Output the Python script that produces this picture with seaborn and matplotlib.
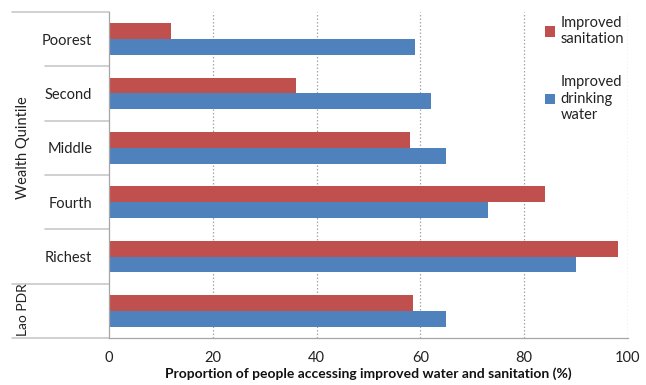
import matplotlib
matplotlib.use("Agg")
import matplotlib.pyplot as plt
from matplotlib.patches import Patch
import matplotlib.transforms as mtransforms
import seaborn as sns
import pandas as pd

# Access to improved services by wealth quintile (%)
groups = ["Poorest", "Second", "Middle", "Fourth", "Richest", "Lao PDR"]
tick_labels = ["Poorest", "Second", "Middle", "Fourth", "Richest", ""]
sanitation = [12, 36, 58, 84, 98, 58.5]
drinking_water = [59, 62, 65, 73, 90, 65]
series = ["Improved sanitation", "Improved drinking water"]
legend_labels = ["Improved\nsanitation", "Improved\ndrinking\nwater"]
colors = ["#C0504D", "#4F81BD"]

df = pd.DataFrame({
    "group": groups * 2,
    "value": sanitation + drinking_water,
    "series": [series[0]] * len(groups) + [series[1]] * len(groups),
})

sns.set_theme(style="white")
plt.rcParams["font.family"] = ["Lato", "DejaVu Sans"]

fig = plt.figure(figsize=(6.46, 3.85), dpi=100)
ax = fig.add_axes([0.1687, 0.122, 0.8034, 0.847])

sns.barplot(data=df, y="group", x="value", hue="series", order=groups,
            hue_order=series, palette=colors, orient="h", width=0.58,
            saturation=1, ax=ax, legend=False, edgecolor="none")

ax.set_xlim(0, 100)
ax.set_ylim(5.5, -0.5)
ax.set_xticks([0, 20, 40, 60, 80, 100])
ax.set_yticks(range(len(groups)))
ax.set_yticklabels(tick_labels, fontsize=10.5, color="#222222")
ax.tick_params(axis="y", length=0, pad=12)
ax.tick_params(axis="x", length=5, width=0.8, color="#A6A6A6",
               direction="out", labelsize=10.5, labelcolor="#222222", pad=4)

for v in [20, 40, 60, 80, 100]:
    ax.axvline(v, color="#A6A6A6", lw=0.9, ls=(0, (1.2, 1.6)), zorder=0)

for side in ["top", "right"]:
    ax.spines[side].set_visible(False)
for side in ["left", "bottom"]:
    ax.spines[side].set_color("#A6A6A6")
    ax.spines[side].set_linewidth(0.9)

ax.set_ylabel("")
ax.set_xlabel("Proportion of people accessing improved water and sanitation (%)",
              fontsize=10, fontweight="bold", color="#111111", labelpad=2)

# Two-level category separators on the left of the axis
trans = mtransforms.blended_transform_factory(ax.transAxes, ax.transData)
for yb in [-0.5, 4.5, 5.5]:
    ax.plot([-0.187, 0], [yb, yb], transform=trans, color="#C8C8C8",
            lw=1.2, clip_on=False)
for yb in [0.5, 1.5, 2.5, 3.5]:
    ax.plot([-0.123, 0], [yb, yb], transform=trans, color="#C8C8C8",
            lw=1.2, clip_on=False)

ax.text(-0.166, 2.0, "Wealth Quintile", transform=trans, rotation=90,
        ha="center", va="center", fontsize=10.5, color="#222222")
ax.text(-0.166, 4.98, "Lao PDR", transform=trans, rotation=90,
        ha="center", va="center", fontsize=10, color="#222222")

handles = [Patch(facecolor=c, edgecolor="none") for c in colors]
ax.legend(handles, legend_labels, loc="upper left", bbox_to_anchor=(0.826, 1.01),
          frameon=False, fontsize=10.5, handlelength=0.7, handleheight=0.7,
          handletextpad=0.35, labelspacing=2.0, borderaxespad=0.1,
          labelcolor="#222222")

fig.savefig("out.png", dpi=100)
